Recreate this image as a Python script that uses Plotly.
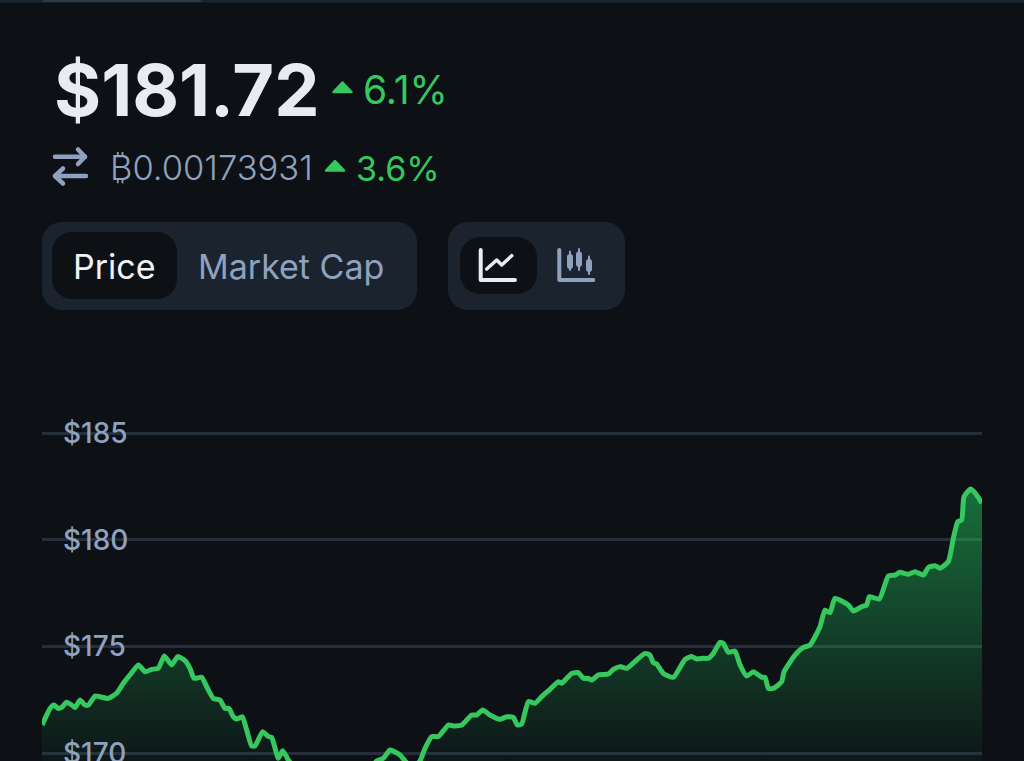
import plotly.graph_objects as go

# --- data -----------------------------------------------------------------
minutes = [0, 7, 12, 18, 24.5, 29.5, 37, 44.5, 49.5, 57, 64.5, 69.5, 79.5, 87, 99.5, 112, 122, 132, 144.5, 154.5,
           164.5, 174.5, 183.5, 194.5, 203.5, 214.5, 222, 228, 239.5, 247, 257, 267, 274.5, 280.5, 287, 292, 300.5,
           307, 314.5, 319.5, 331, 339.5, 344.5, 354.5, 361, 369.5, 385, 410, 440, 470, 490, 502, 512, 522, 537,
           544.5, 555, 567, 574.5, 584.5, 594.5, 609.5, 617, 629.5, 644.5, 652, 661, 672, 687, 697, 707, 713, 719.5,
           729.5, 739.5, 749.5, 762, 774.5, 779.5, 794.5, 804.5, 812, 819.5, 824.5, 834.5, 849.5, 857, 867, 877, 892,
           904.5, 912, 917, 922, 932, 947, 964.5, 974.5, 982, 992, 999.5, 1007, 1017, 1022, 1029.5, 1039.5, 1047,
           1057, 1067, 1079.5, 1084.5, 1089.5, 1097, 1109.5, 1113, 1129.5, 1142, 1152, 1167, 1174.5, 1182, 1189.5,
           1209.5, 1217, 1229.5, 1237, 1241, 1256, 1269.5, 1279.5, 1287, 1299.5, 1309.5, 1322, 1329.5, 1339.5, 1347,
           1359.5, 1367, 1373.5, 1379.5, 1383, 1393, 1399.5, 1410]
price_usd = [171.31, 171.78, 172.09, 172.25, 172.09, 172.14, 172.38, 172.25, 172.13, 172.48, 172.25, 172.25, 172.67,
             172.64, 172.56, 172.80, 173.27, 173.66, 174.13, 173.81, 173.92, 173.97, 174.55, 174.13, 174.52, 174.33,
             173.97, 173.50, 173.55, 173.11, 172.56, 172.48, 172.09, 172.09, 171.70, 171.59, 171.70, 171.08, 170.33,
             170.33, 171.00, 170.77, 170.73, 169.75, 170.11, 169.67, 169.10, 168.70, 168.30, 168.60, 169.10, 169.63,
             169.75, 170.14, 169.91, 169.63, 169.30, 169.63, 170.22, 170.77, 170.77, 171.31, 171.27, 171.31, 171.78,
             171.78, 172.02, 171.78, 171.58, 171.70, 171.67, 171.31, 171.36, 172.41, 172.33, 172.64, 172.98, 173.34,
             173.27, 173.73, 173.77, 173.50, 173.50, 173.42, 173.66, 173.70, 173.92, 174.05, 173.97, 174.36, 174.67,
             174.59, 174.23, 174.17, 173.73, 173.55, 174.39, 174.52, 174.41, 174.44, 174.44, 174.67, 175.19, 175.14,
             174.72, 174.78, 174.13, 173.61, 173.81, 173.55, 173.55, 173.03, 173.03, 173.34, 173.81, 174.59, 174.95,
             175.06, 175.92, 176.70, 176.58, 177.25, 176.94, 176.66, 176.86, 176.94, 177.33, 177.22, 178.30, 178.34,
             178.47, 178.38, 178.50, 178.34, 178.70, 178.78, 178.66, 178.97, 180.06, 180.84, 180.92, 182.02, 182.38,
             182.20, 181.72]
tick_values = [170, 175, 180, 185]
tick_labels = ["$170", "$175", "$180", "$185"]

price_text = "$181.72"
usd_change = "6.1%"
btc_text = "₿0.00173931"
btc_change = "3.6%"
tab_labels = ["Price", "Market Cap"]

# --- styling --------------------------------------------------------------
W, H = 1024, 761
BG = "#0d1116"
PANEL = "#1b232e"
GREEN = "#36c75e"
MUTED = "#8ea2bf"
LIGHT = "#e8ecf2"
GRID = "#262e3b"
FONT = "Inter"


def fx(p):
    return p / W


def fy(p):
    return 1 - p / H


def path(points, close=False):
    s = "M " + " L ".join(f"{fx(x):.5f},{fy(y):.5f}" for x, y in points)
    return s + (" Z" if close else "")


def rrect(x0, y0, x1, y1, r, fill):
    k = r * 0.45
    parts = [
        f"M {fx(x0 + r):.5f},{fy(y0):.5f}",
        f"L {fx(x1 - r):.5f},{fy(y0):.5f}",
        f"C {fx(x1 - k):.5f},{fy(y0):.5f} {fx(x1):.5f},{fy(y0 + k):.5f} {fx(x1):.5f},{fy(y0 + r):.5f}",
        f"L {fx(x1):.5f},{fy(y1 - r):.5f}",
        f"C {fx(x1):.5f},{fy(y1 - k):.5f} {fx(x1 - k):.5f},{fy(y1):.5f} {fx(x1 - r):.5f},{fy(y1):.5f}",
        f"L {fx(x0 + r):.5f},{fy(y1):.5f}",
        f"C {fx(x0 + k):.5f},{fy(y1):.5f} {fx(x0):.5f},{fy(y1 - k):.5f} {fx(x0):.5f},{fy(y1 - r):.5f}",
        f"L {fx(x0):.5f},{fy(y0 + r):.5f}",
        f"C {fx(x0):.5f},{fy(y0 + k):.5f} {fx(x0 + k):.5f},{fy(y0):.5f} {fx(x0 + r):.5f},{fy(y0):.5f} Z",
    ]
    return dict(type="path", xref="paper", yref="paper", path=" ".join(parts), fillcolor=fill,
                line=dict(width=0), layer="below")


def stroke(points, color, width):
    return dict(type="path", xref="paper", yref="paper", path=path(points), line=dict(color=color, width=width),
                layer="above")


def tri(points, color):
    return dict(type="path", xref="paper", yref="paper", path=path(points, True), fillcolor=color,
                line=dict(color=color, width=2.5), layer="above")


def label(text, x, y, size, color, weight=400):
    return dict(text=text, x=fx(x), y=fy(y), xref="paper", yref="paper", xanchor="left", yanchor="middle",
                showarrow=False, font=dict(family=FONT, size=size, color=color, weight=weight))


shapes = [
    # top strip
    dict(type="rect", xref="paper", yref="paper", x0=0, x1=1, y0=fy(2.5), y1=1, fillcolor="#1a2530",
         line=dict(width=0), layer="below"),
    dict(type="rect", xref="paper", yref="paper", x0=fx(43), x1=fx(201), y0=fy(2), y1=1, fillcolor="#2e3b44",
         line=dict(width=0), layer="below"),
    # panels
    rrect(42, 222, 417, 310, 20, PANEL),
    rrect(52, 232, 177, 299, 20, BG),
    rrect(448, 222, 625, 310, 20, PANEL),
    rrect(460, 237, 537, 294, 20, BG),
    # triangles
    tri([(342.5, 82.5), (333.5, 92), (351.5, 92)], GREEN),
    tri([(335, 161), (326, 170.5), (344, 170.5)], GREEN),
    # swap icon
    stroke([(55, 156.7), (85, 156.7)], MUTED, 4.5),
    stroke([(78, 149.5), (85, 156.7), (78, 164)], MUTED, 4.5),
    stroke([(55, 176), (86, 176)], MUTED, 4.5),
    stroke([(63, 168.5), (55, 176), (63, 183.5)], MUTED, 4.5),
    # line-chart icon
    stroke([(480.7, 250), (480.7, 280), (515, 280)], LIGHT, 4),
    stroke([(486.7, 269), (496.7, 260), (501.7, 265), (511.7, 255.7)], LIGHT, 3.5),
    # candle icon
    stroke([(559.3, 250), (559.3, 280), (593.3, 280)], MUTED, 4),
    stroke([(570, 251.5), (570, 270)], MUTED, 2),
    stroke([(570, 257), (570, 266)], MUTED, 6),
    stroke([(579, 249), (579, 270)], MUTED, 2),
    stroke([(579, 254.5), (579, 264)], MUTED, 6),
    stroke([(589, 256.5), (589, 274)], MUTED, 2),
    stroke([(589, 262), (589, 269)], MUTED, 6),
]

annotations = [
    label(price_text, 52, 90, 72, LIGHT, 700),
    label(usd_change, 361, 90, 39, GREEN),
    label(btc_text, 108, 167, 34.5, MUTED, 300),
    label(btc_change, 354, 168, 34, GREEN),
    label(tab_labels[0], 71, 266.5, 34, "#f0f2f5"),
    label(tab_labels[1], 196, 266.5, 34, MUTED),
]

fig = go.Figure()
fig.add_trace(go.Scatter(
    x=minutes,
    y=price_usd,
    mode="lines",
    line=dict(color=GREEN, width=5, shape="spline", smoothing=0.5),
    fill="tozeroy",
    fillgradient=dict(type="vertical", start=169.6, stop=182.4,
                      colorscale=[[0, "rgba(34,197,94,0.03)"], [1, "rgba(34,197,94,0.52)"]]),
    hoverinfo="skip",
    showlegend=False,
))

fig.update_layout(
    width=W,
    height=H,
    margin=dict(l=0, r=0, t=0, b=0, autoexpand=False),
    paper_bgcolor=BG,
    plot_bgcolor="rgba(0,0,0,0)",
    shapes=shapes,
    annotations=annotations,
    showlegend=False,
    xaxis=dict(range=[0, 1410], domain=[42 / W, 982 / W], showgrid=False, zeroline=False, showticklabels=False,
               showline=False, ticks=""),
    yaxis=dict(
        range=[169.625, 186.55],
        domain=[0, 361 / H],
        anchor="x",
        tickvals=tick_values,
        ticktext=tick_labels,
        ticklabelposition="inside",
        ticklabeloverflow="allow",
        ticklabelstandoff=18,
        tickfont=dict(family=FONT, size=28, color=MUTED, weight=500),
        ticks="",
        gridcolor=GRID,
        gridwidth=2.5,
        zeroline=False,
        showline=False,
    ),
)

fig.write_html(
    "out.html",
    config=dict(displayModeBar=False),
    post_script=(
        f"document.body.style.margin='0';document.body.style.background='{BG}';"
        "document.body.style.overflow='hidden';"
        "document.querySelectorAll('.shapelayer path').forEach(function(p){"
        "p.style.strokeLinecap='round';p.style.strokeLinejoin='round';});"
    ),
)
